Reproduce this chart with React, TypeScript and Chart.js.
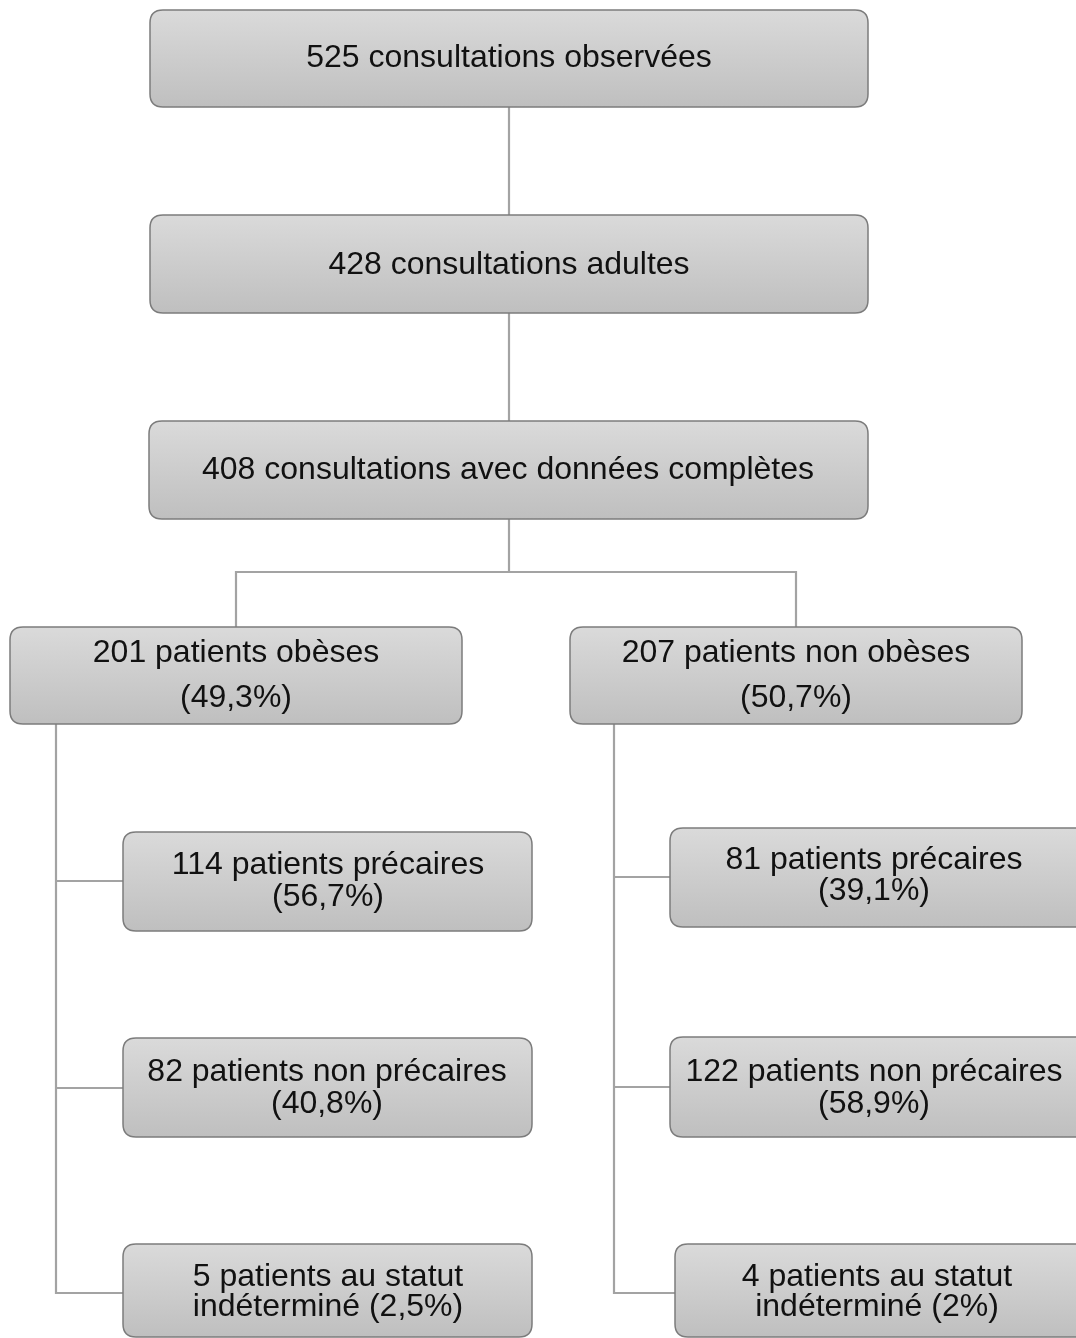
import React, { useEffect, useRef } from "react";
import { Chart, registerables } from "chart.js";

Chart.register(...registerables);

// ---- Data (values & texts) ----
const counts = [525, 428, 408, 201, 207, 114, 82, 5, 81, 122, 4];
const line1Labels = [
  "525 consultations observées",
  "428 consultations adultes",
  "408 consultations avec données complètes",
  "201 patients obèses",
  "207 patients non obèses",
  "114 patients précaires",
  "82 patients non précaires",
  "5 patients au statut",
  "81 patients précaires",
  "122 patients non précaires",
  "4 patients au statut",
];
const line2Labels = [
  "",
  "",
  "",
  "(49,3%)",
  "(50,7%)",
  "(56,7%)",
  "(40,8%)",
  "indéterminé (2,5%)",
  "(39,1%)",
  "(58,9%)",
  "indéterminé (2%)",
];

// ---- Layout (positions in page units, kept apart from data) ----
// [x0, y0, x1, y1, textX, textY1, textY2]
const boxLayout: number[][] = [
  [150, 10, 868, 107, 509, 58, 0],
  [150, 215, 868, 313, 509, 265, 0],
  [149, 421, 868, 519, 508, 470, 0],
  [10, 627, 462, 724, 236, 653, 698],
  [570, 627, 1022, 724, 796, 653, 698],
  [123, 832, 532, 931, 328, 865, 897],
  [123, 1038, 532, 1137, 327, 1072, 1104],
  [123, 1244, 532, 1337, 328, 1277, 1307],
  [670, 828, 1092, 927, 874, 860, 891],
  [670, 1037, 1092, 1137, 874, 1072, 1104],
  [675, 1244, 1092, 1337, 877, 1277, 1307],
];
const connectorLayout: number[][][] = [
  [[509, 107], [509, 215]],
  [[509, 313], [509, 421]],
  [[509, 519], [509, 572]],
  [[236, 627], [236, 572], [796, 572], [796, 627]],
  [[56, 724], [56, 1293], [123, 1293]],
  [[56, 881], [123, 881]],
  [[56, 1088], [123, 1088]],
  [[614, 724], [614, 1293], [675, 1293]],
  [[614, 877], [670, 877]],
  [[614, 1087], [670, 1087]],
];

const W = 1076;
const H = 1338;

function roundRect(ctx: CanvasRenderingContext2D, x: number, y: number, w: number, h: number, r: number) {
  ctx.beginPath();
  ctx.moveTo(x + r, y);
  ctx.lineTo(x + w - r, y);
  ctx.quadraticCurveTo(x + w, y, x + w, y + r);
  ctx.lineTo(x + w, y + h - r);
  ctx.quadraticCurveTo(x + w, y + h, x + w - r, y + h);
  ctx.lineTo(x + r, y + h);
  ctx.quadraticCurveTo(x, y + h, x, y + h - r);
  ctx.lineTo(x, y + r);
  ctx.quadraticCurveTo(x, y, x + r, y);
  ctx.closePath();
}

const flowPlugin = {
  id: "flowPlugin",
  afterDatasetsDraw(chart: any) {
    const ctx: CanvasRenderingContext2D = chart.ctx;
    const xs = chart.scales.x;
    const ys = chart.scales.y;
    const px = (v: number) => xs.getPixelForValue(v);
    const py = (v: number) => ys.getPixelForValue(v);
    ctx.save();
    // connectors
    ctx.strokeStyle = "#a3a3a3";
    ctx.lineWidth = 2.2;
    ctx.lineJoin = "miter";
    connectorLayout.forEach((pts) => {
      ctx.beginPath();
      pts.forEach((p, i) => {
        if (i === 0) ctx.moveTo(px(p[0]), py(p[1]));
        else ctx.lineTo(px(p[0]), py(p[1]));
      });
      ctx.stroke();
    });
    // boxes
    counts.forEach((_c, i) => {
      const b = boxLayout[i];
      const x0 = px(b[0]);
      const y0 = py(b[1]);
      const x1 = px(b[2]);
      const y1 = py(b[3]);
      const g = ctx.createLinearGradient(0, y0, 0, y1);
      g.addColorStop(0, "#dadada");
      g.addColorStop(1, "#bfbfbf");
      roundRect(ctx, x0, y0, x1 - x0, y1 - y0, 13);
      ctx.fillStyle = g;
      ctx.fill();
      ctx.strokeStyle = "#7c7c7c";
      ctx.lineWidth = 1.5;
      ctx.stroke();
      ctx.fillStyle = "#111111";
      ctx.font = "32px 'Liberation Sans', Arial, sans-serif";
      ctx.textAlign = "center";
      ctx.textBaseline = "middle";
      const cx = px(b[4]);
      ctx.fillText(line1Labels[i], cx, py(b[5]));
      if (line2Labels[i]) ctx.fillText(line2Labels[i], cx, py(b[6]));
    });
    ctx.restore();
  },
};

export default function App() {
  const ref = useRef<HTMLCanvasElement | null>(null);
  useEffect(() => {
    if (!ref.current) return;
    const chart = new Chart(ref.current, {
      type: "scatter",
      data: {
        datasets: [
          {
            data: counts.map((_c, i) => ({
              x: (boxLayout[i][0] + boxLayout[i][2]) / 2,
              y: (boxLayout[i][1] + boxLayout[i][3]) / 2,
            })),
            pointRadius: 0,
          },
        ],
      },
      options: {
        animation: false,
        responsive: true,
        maintainAspectRatio: false,
        layout: { padding: 0 },
        plugins: { legend: { display: false }, tooltip: { enabled: false } },
        scales: {
          x: { type: "linear", min: 0, max: W, display: false },
          y: { type: "linear", min: 0, max: H, reverse: true, display: false },
        },
      },
      plugins: [flowPlugin],
    });
    return () => chart.destroy();
  }, []);
  return (
    <div style={{ position: "absolute", left: 0, top: 0, width: W, height: H, background: "#fff" }}>
      <canvas ref={ref} />
    </div>
  );
}
